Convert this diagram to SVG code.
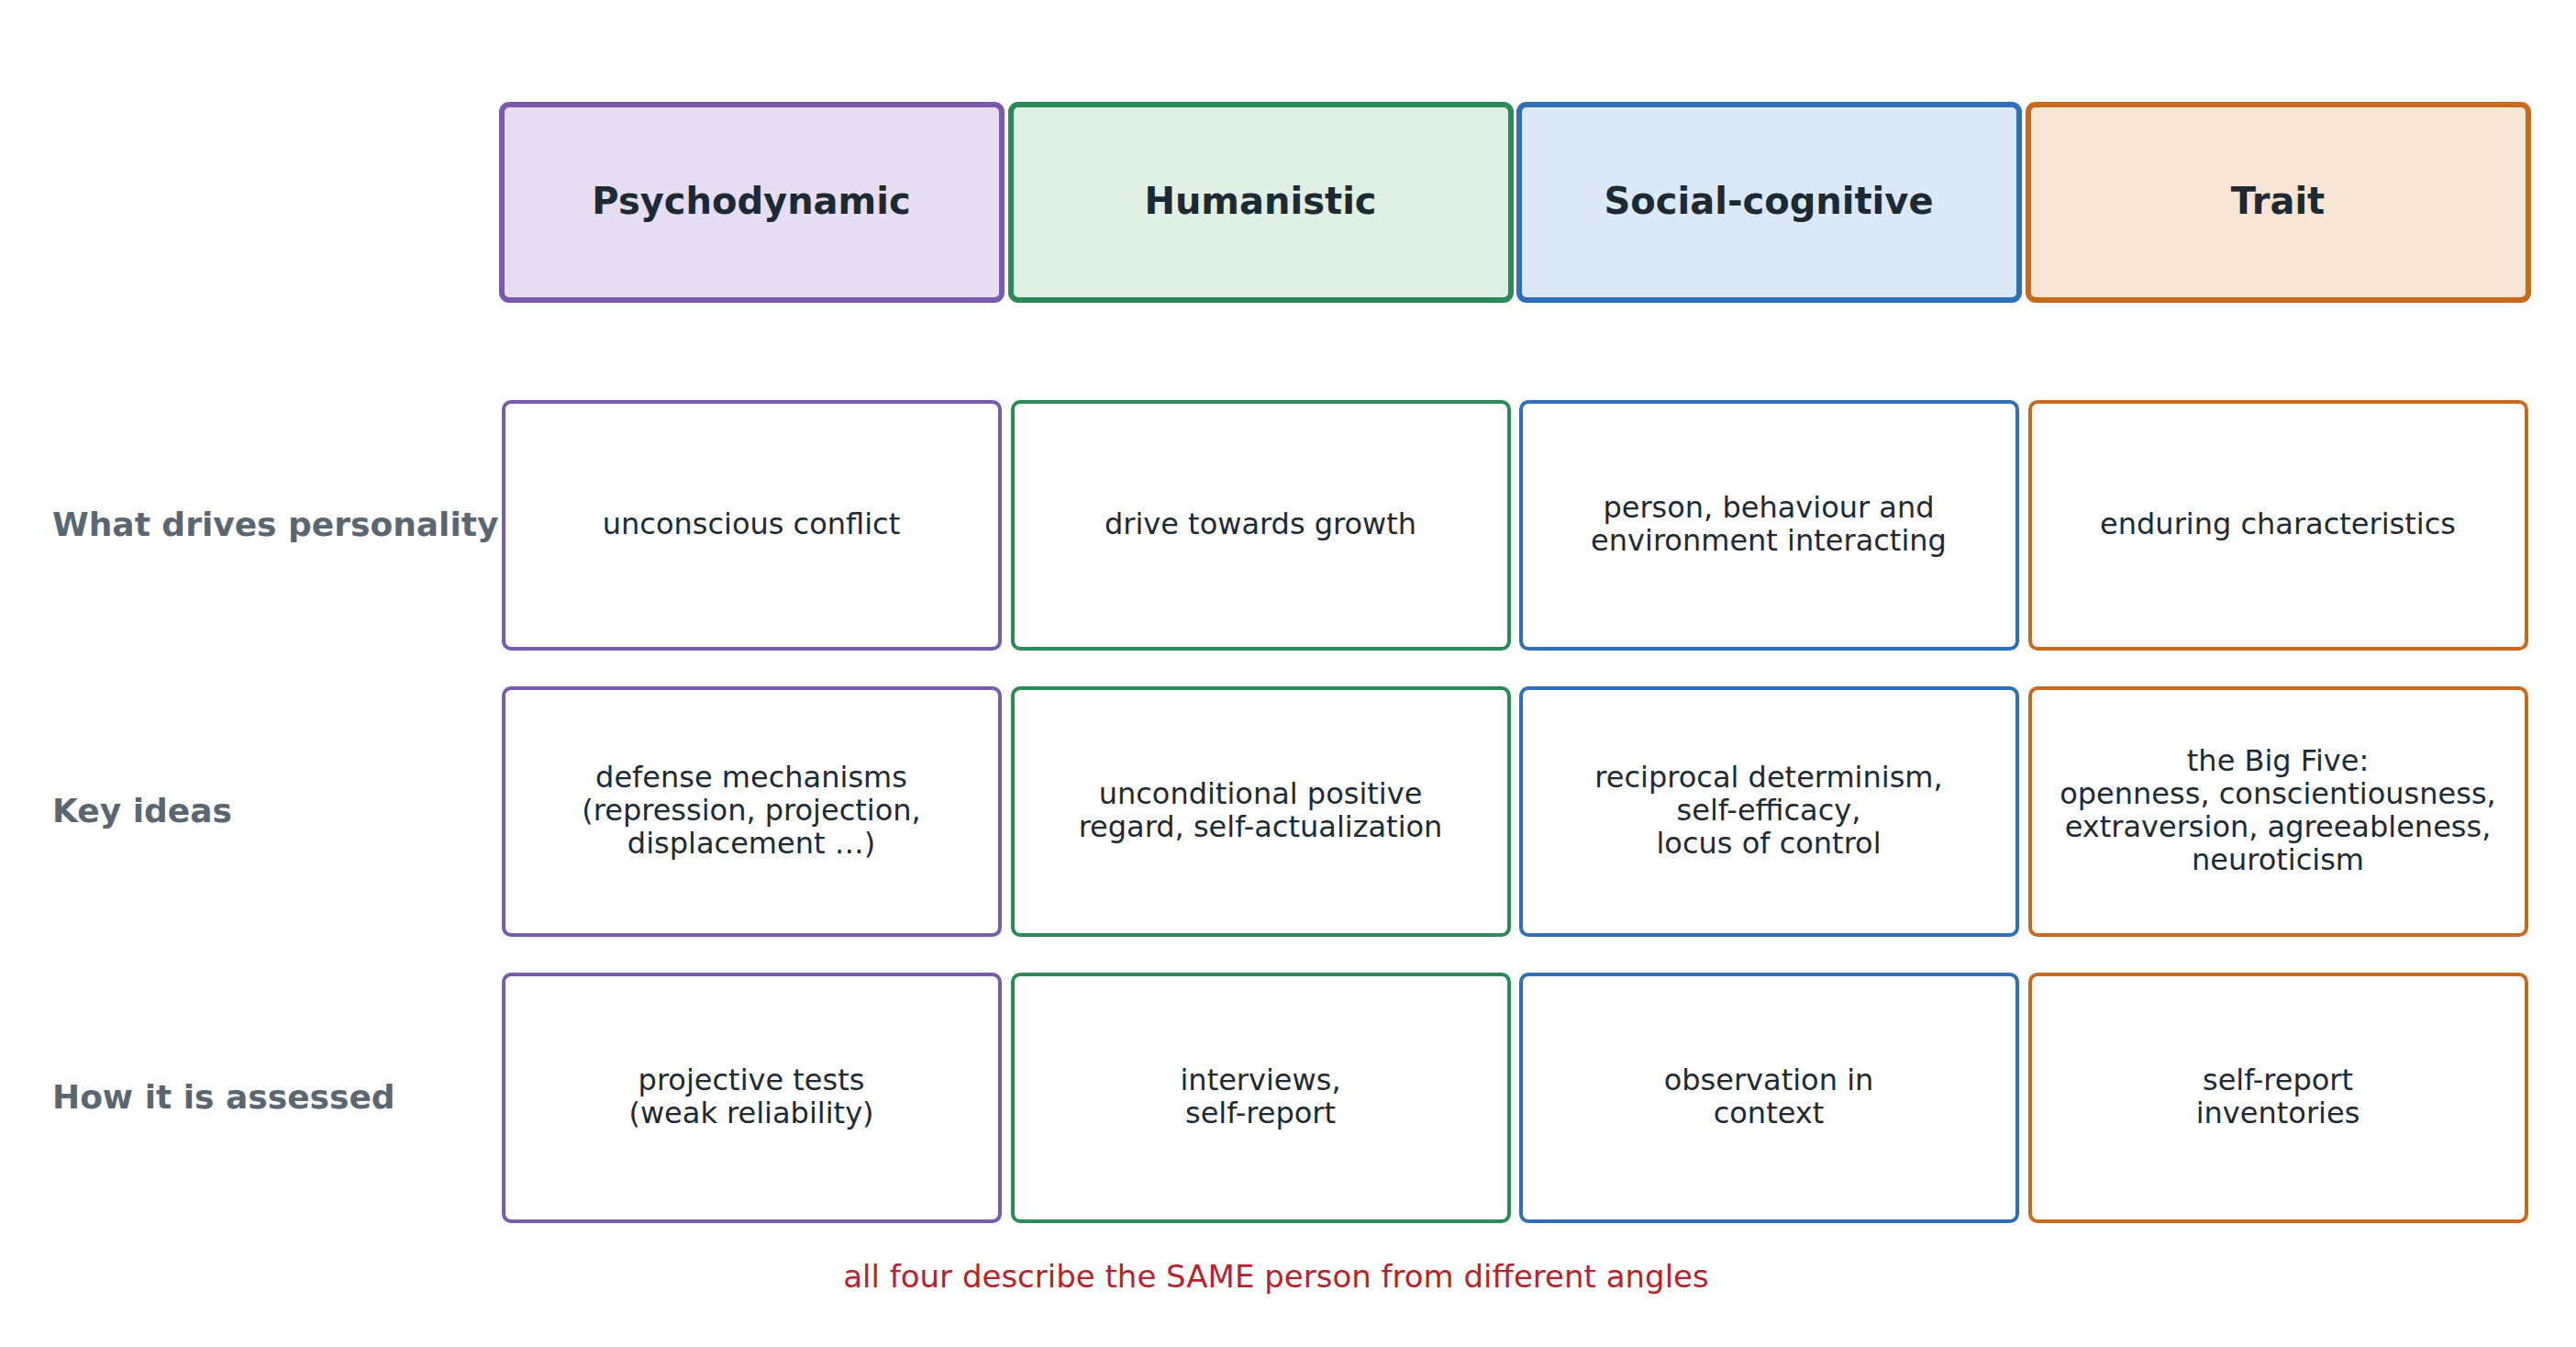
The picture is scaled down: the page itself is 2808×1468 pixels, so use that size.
<svg xmlns="http://www.w3.org/2000/svg" width="2808" height="1468" viewBox="0 0 2808 1468">
<style>
text{font-family:"DejaVu Sans",sans-serif;text-anchor:middle;dominant-baseline:central}
.h{font-size:40px;font-weight:bold;fill:#1e2a33}
.c{font-size:32px;fill:#1e2a33}
.l{font-size:36px;font-weight:bold;fill:#5a6672;text-anchor:start}
.hb{stroke-width:6}
.cb{fill:#fff;stroke-width:4}
.p{stroke:#7a5aad}.g{stroke:#2b8a57}.b{stroke:#2f6fb8}.o{stroke:#c86a1e}
</style>
<rect width="2808" height="1468" fill="#fff"/>
<g id="h1"><rect class="hb p" x="547" y="114" width="545" height="213" rx="8" fill="#e6ddf2"/><text class="h" x="819" y="219">Psychodynamic</text></g>
<g id="h2"><rect class="hb g" x="1102" y="114" width="545" height="213" rx="8" fill="#ddf0e3"/><text class="h" x="1374" y="219">Humanistic</text></g>
<g id="h3"><rect class="hb b" x="1656" y="114" width="545" height="213" rx="8" fill="#dae8f7"/><text class="h" x="1928" y="219">Social-cognitive</text></g>
<g id="h4"><rect class="hb o" x="2211" y="114" width="545" height="213" rx="8" fill="#fae5d5"/><text class="h" x="2483" y="219">Trait</text></g>
<g id="labels">
<text class="l" x="57" y="571">What drives personality</text>
<text class="l" x="57" y="883">Key ideas</text>
<text class="l" x="57" y="1195">How it is assessed</text>
</g>
<g id="r1c1"><rect class="cb p" x="549" y="438" width="541" height="269" rx="8"/><text class="c" x="819" y="571">unconscious conflict</text></g>
<g id="r1c2"><rect class="cb g" x="1104" y="438" width="541" height="269" rx="8"/><text class="c" x="1374" y="571">drive towards growth</text></g>
<g id="r1c3"><rect class="cb b" x="1658" y="438" width="541" height="269" rx="8"/><text class="c" x="1928" y="553">person, behaviour and</text><text class="c" x="1928" y="589">environment interacting</text></g>
<g id="r1c4"><rect class="cb o" x="2213" y="438" width="541" height="269" rx="8"/><text class="c" x="2483" y="571">enduring characteristics</text></g>
<g id="r2c1"><rect class="cb p" x="549" y="750" width="541" height="269" rx="8"/><text class="c" x="819" y="847">defense mechanisms</text><text class="c" x="819" y="883">(repression, projection,</text><text class="c" x="819" y="919">displacement …)</text></g>
<g id="r2c2"><rect class="cb g" x="1104" y="750" width="541" height="269" rx="8"/><text class="c" x="1374" y="865">unconditional positive</text><text class="c" x="1374" y="901">regard, self-actualization</text></g>
<g id="r2c3"><rect class="cb b" x="1658" y="750" width="541" height="269" rx="8"/><text class="c" x="1928" y="847">reciprocal determinism,</text><text class="c" x="1928" y="883">self-efficacy,</text><text class="c" x="1928" y="919">locus of control</text></g>
<g id="r2c4"><rect class="cb o" x="2213" y="750" width="541" height="269" rx="8"/><text class="c" x="2483" y="829">the Big Five:</text><text class="c" x="2483" y="865">openness, conscientiousness,</text><text class="c" x="2483" y="901">extraversion, agreeableness,</text><text class="c" x="2483" y="937">neuroticism</text></g>
<g id="r3c1"><rect class="cb p" x="549" y="1062" width="541" height="269" rx="8"/><text class="c" x="819" y="1177">projective tests</text><text class="c" x="819" y="1213">(weak reliability)</text></g>
<g id="r3c2"><rect class="cb g" x="1104" y="1062" width="541" height="269" rx="8"/><text class="c" x="1374" y="1177">interviews,</text><text class="c" x="1374" y="1213">self-report</text></g>
<g id="r3c3"><rect class="cb b" x="1658" y="1062" width="541" height="269" rx="8"/><text class="c" x="1928" y="1177">observation in</text><text class="c" x="1928" y="1213">context</text></g>
<g id="r3c4"><rect class="cb o" x="2213" y="1062" width="541" height="269" rx="8"/><text class="c" x="2483" y="1177">self-report</text><text class="c" x="2483" y="1213">inventories</text></g>
<g id="connectors"></g>
<g id="footer"><text x="1391" y="1391" style="font-size:34px;fill:#b5242a">all four describe the SAME person from different angles</text></g>
</svg>
